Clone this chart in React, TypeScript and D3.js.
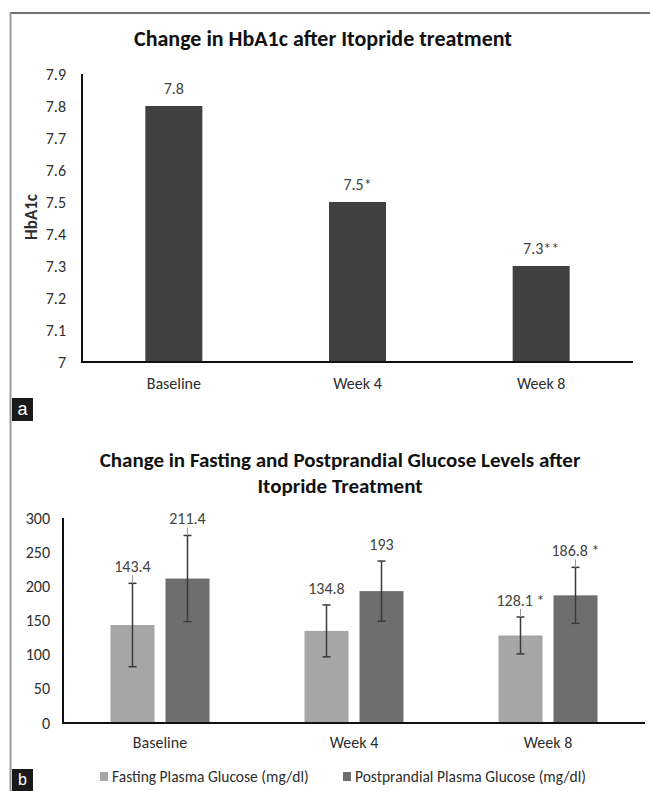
import React from 'react';
import * as d3 from 'd3';

// HbA1c panel
const hbCategories = ['Baseline', 'Week 4', 'Week 8'];
const hbValues = [7.8, 7.5, 7.3];
const hbLabels = ['7.8', '7.5*', '7.3**'];
const hbTicks = [7, 7.1, 7.2, 7.3, 7.4, 7.5, 7.6, 7.7, 7.8, 7.9];

// glucose panel
const glCategories = ['Baseline', 'Week 4', 'Week 8'];
const glSeries = ['Fasting Plasma Glucose (mg/dl)', 'Postprandial Plasma Glucose (mg/dl)'];
const fastingValues = [143.4, 134.8, 128.1];
const fastingSd = [61, 38, 27];
const fastingLabels = ['143.4', '134.8', '128.1 *'];
const postValues = [211.4, 193, 186.8];
const postSd = [63, 44, 41];
const postLabels = ['211.4', '193', '186.8 *'];
const fastingLeader = [true, false, true];
const postLeader = [true, false, true];
const glTicks = [0, 50, 100, 150, 200, 250, 300];

const FONT = "Carlito, Calibri, Lato, 'Liberation Sans', sans-serif";
const TEXT = '#2e2e2e';
const colors = ['#a6a6a6', '#6e6e6e'];

export default function App() {
  // top chart scales
  const xTop = d3.scaleBand<string>().domain(hbCategories).range([82, 633]);
  const yTop = d3.scaleLinear().domain([7, 7.9]).range([362, 74]);
  const hbBarW = 57;

  // bottom chart scales
  const xBot = d3.scaleBand<string>().domain(glCategories).range([63, 645]);
  const yBot = d3.scaleLinear().domain([0, 300]).range([723, 518]);
  const xSub = d3.scaleBand<string>().domain(glSeries).range([0, 99]).paddingInner(0.2);

  const groups = glCategories.map((c, i) => ({
    cat: c,
    bars: [
      { s: glSeries[0], v: fastingValues[i], sd: fastingSd[i], label: fastingLabels[i], leader: fastingLeader[i] },
      { s: glSeries[1], v: postValues[i], sd: postSd[i], label: postLabels[i], leader: postLeader[i] },
    ],
  }));

  return (
    <div style={{ position: 'absolute', left: 0, top: 0 }}>
      <svg width={650} height={791} style={{ display: 'block', background: '#fff' }} fontFamily={FONT}>
        {/* frame */}
        <line x1={10} x2={650} y1={13} y2={13} stroke="#444" strokeWidth={1.5} />
        <line x1={10.5} x2={10.5} y1={13} y2={791} stroke="#999" strokeWidth={2} />

        {/* ---------- panel a ---------- */}
        <text x={323} y={46} textAnchor="middle" fontSize={22} fontWeight="bold" fill="#111">
          Change in HbA1c after Itopride treatment
        </text>
        {hbTicks.map((t) => (
          <text key={t} x={66} y={yTop(t)} dy="0.35em" textAnchor="end" fontSize={16} fill={TEXT}>
            {d3.format('')(t)}
          </text>
        ))}
        <text transform={`translate(31,217) rotate(-90)`} textAnchor="middle" dy="0.35em" fontSize={17} fontWeight="bold" fill={TEXT}>
          HbA1c
        </text>
        {hbCategories.map((c, i) => {
          const cx = xTop(c)! + xTop.bandwidth() / 2;
          return (
            <g key={c}>
              <rect x={cx - hbBarW / 2} y={yTop(hbValues[i])} width={hbBarW} height={yTop(7) - yTop(hbValues[i])} fill="#404040" />
              <text x={cx} y={yTop(hbValues[i]) - 12} textAnchor="middle" fontSize={16} fill="#444">
                {hbLabels[i]}
              </text>
              <text x={cx} y={389} textAnchor="middle" fontSize={16} fill={TEXT}>
                {c}
              </text>
            </g>
          );
        })}
        <line x1={82} x2={82} y1={yTop(7.9)} y2={yTop(7)} stroke="#111" strokeWidth={2} />
        <line x1={81} x2={633} y1={yTop(7)} y2={yTop(7)} stroke="#111" strokeWidth={2} />
        <rect x={12} y={398} width={21} height={23} fill="#1a1a1a" />
        <text x={22.5} y={415} textAnchor="middle" fontSize={18} fill="#fff" fontFamily="'Liberation Sans', Arial, sans-serif">
          a
        </text>

        {/* ---------- panel b ---------- */}
        <text x={340} y={467} textAnchor="middle" fontSize={21} fontWeight="bold" fill="#111">
          Change in Fasting and Postprandial Glucose Levels after
        </text>
        <text x={340} y={493} textAnchor="middle" fontSize={21} fontWeight="bold" fill="#111">
          Itopride Treatment
        </text>
        {glTicks.map((t) => (
          <text key={t} x={50} y={yBot(t)} dy="0.35em" textAnchor="end" fontSize={16} fill={TEXT}>
            {t}
          </text>
        ))}
        {groups.map((g) => {
          const g0 = xBot(g.cat)! + xBot.bandwidth() / 2 - 49.5;
          return (
            <g key={g.cat}>
              {g.bars.map((b, j) => {
                const x = g0 + xSub(b.s)!;
                const cx = x + xSub.bandwidth() / 2;
                const top = yBot(b.v + b.sd);
                const ly = top - 17;
                return (
                  <g key={b.s}>
                    <rect x={x} y={yBot(b.v)} width={xSub.bandwidth()} height={yBot(0) - yBot(b.v)} fill={colors[j]} />
                    <line x1={cx} x2={cx} y1={top} y2={yBot(b.v - b.sd)} stroke="#3a3a3a" strokeWidth={1.5} />
                    <line x1={cx - 4} x2={cx + 4} y1={top} y2={top} stroke="#3a3a3a" strokeWidth={1.5} />
                    <line x1={cx - 4} x2={cx + 4} y1={yBot(b.v - b.sd)} y2={yBot(b.v - b.sd)} stroke="#3a3a3a" strokeWidth={1.5} />
                    {b.leader && <line x1={cx} x2={cx} y1={ly + 9} y2={top} stroke="#999" strokeWidth={1} />}
                    <text x={cx} y={ly} dy="0.35em" textAnchor="middle" fontSize={16} fill="#444">
                      {b.label}
                    </text>
                  </g>
                );
              })}
              <text x={xBot(g.cat)! + xBot.bandwidth() / 2} y={748} textAnchor="middle" fontSize={16} fill={TEXT}>
                {g.cat}
              </text>
            </g>
          );
        })}
        <line x1={63} x2={63} y1={yBot(300)} y2={yBot(0)} stroke="#111" strokeWidth={2} />
        <line x1={62} x2={645} y1={yBot(0)} y2={yBot(0)} stroke="#111" strokeWidth={2} />

        {/* legend */}
        {glSeries.map((s, i) => {
          const lx = i === 0 ? 100 : 343;
          return (
            <g key={s}>
              <rect x={lx} y={772} width={8} height={9} fill={colors[i]} />
              <text x={lx + 12} y={777} dy="0.35em" fontSize={15.5} fill={TEXT}>
                {s}
              </text>
            </g>
          );
        })}
        <rect x={12} y={769} width={21} height={22} fill="#1a1a1a" />
        <text x={22.5} y={785} textAnchor="middle" fontSize={16} fill="#fff" fontFamily="'Liberation Sans', Arial, sans-serif">
          b
        </text>
      </svg>
    </div>
  );
}
